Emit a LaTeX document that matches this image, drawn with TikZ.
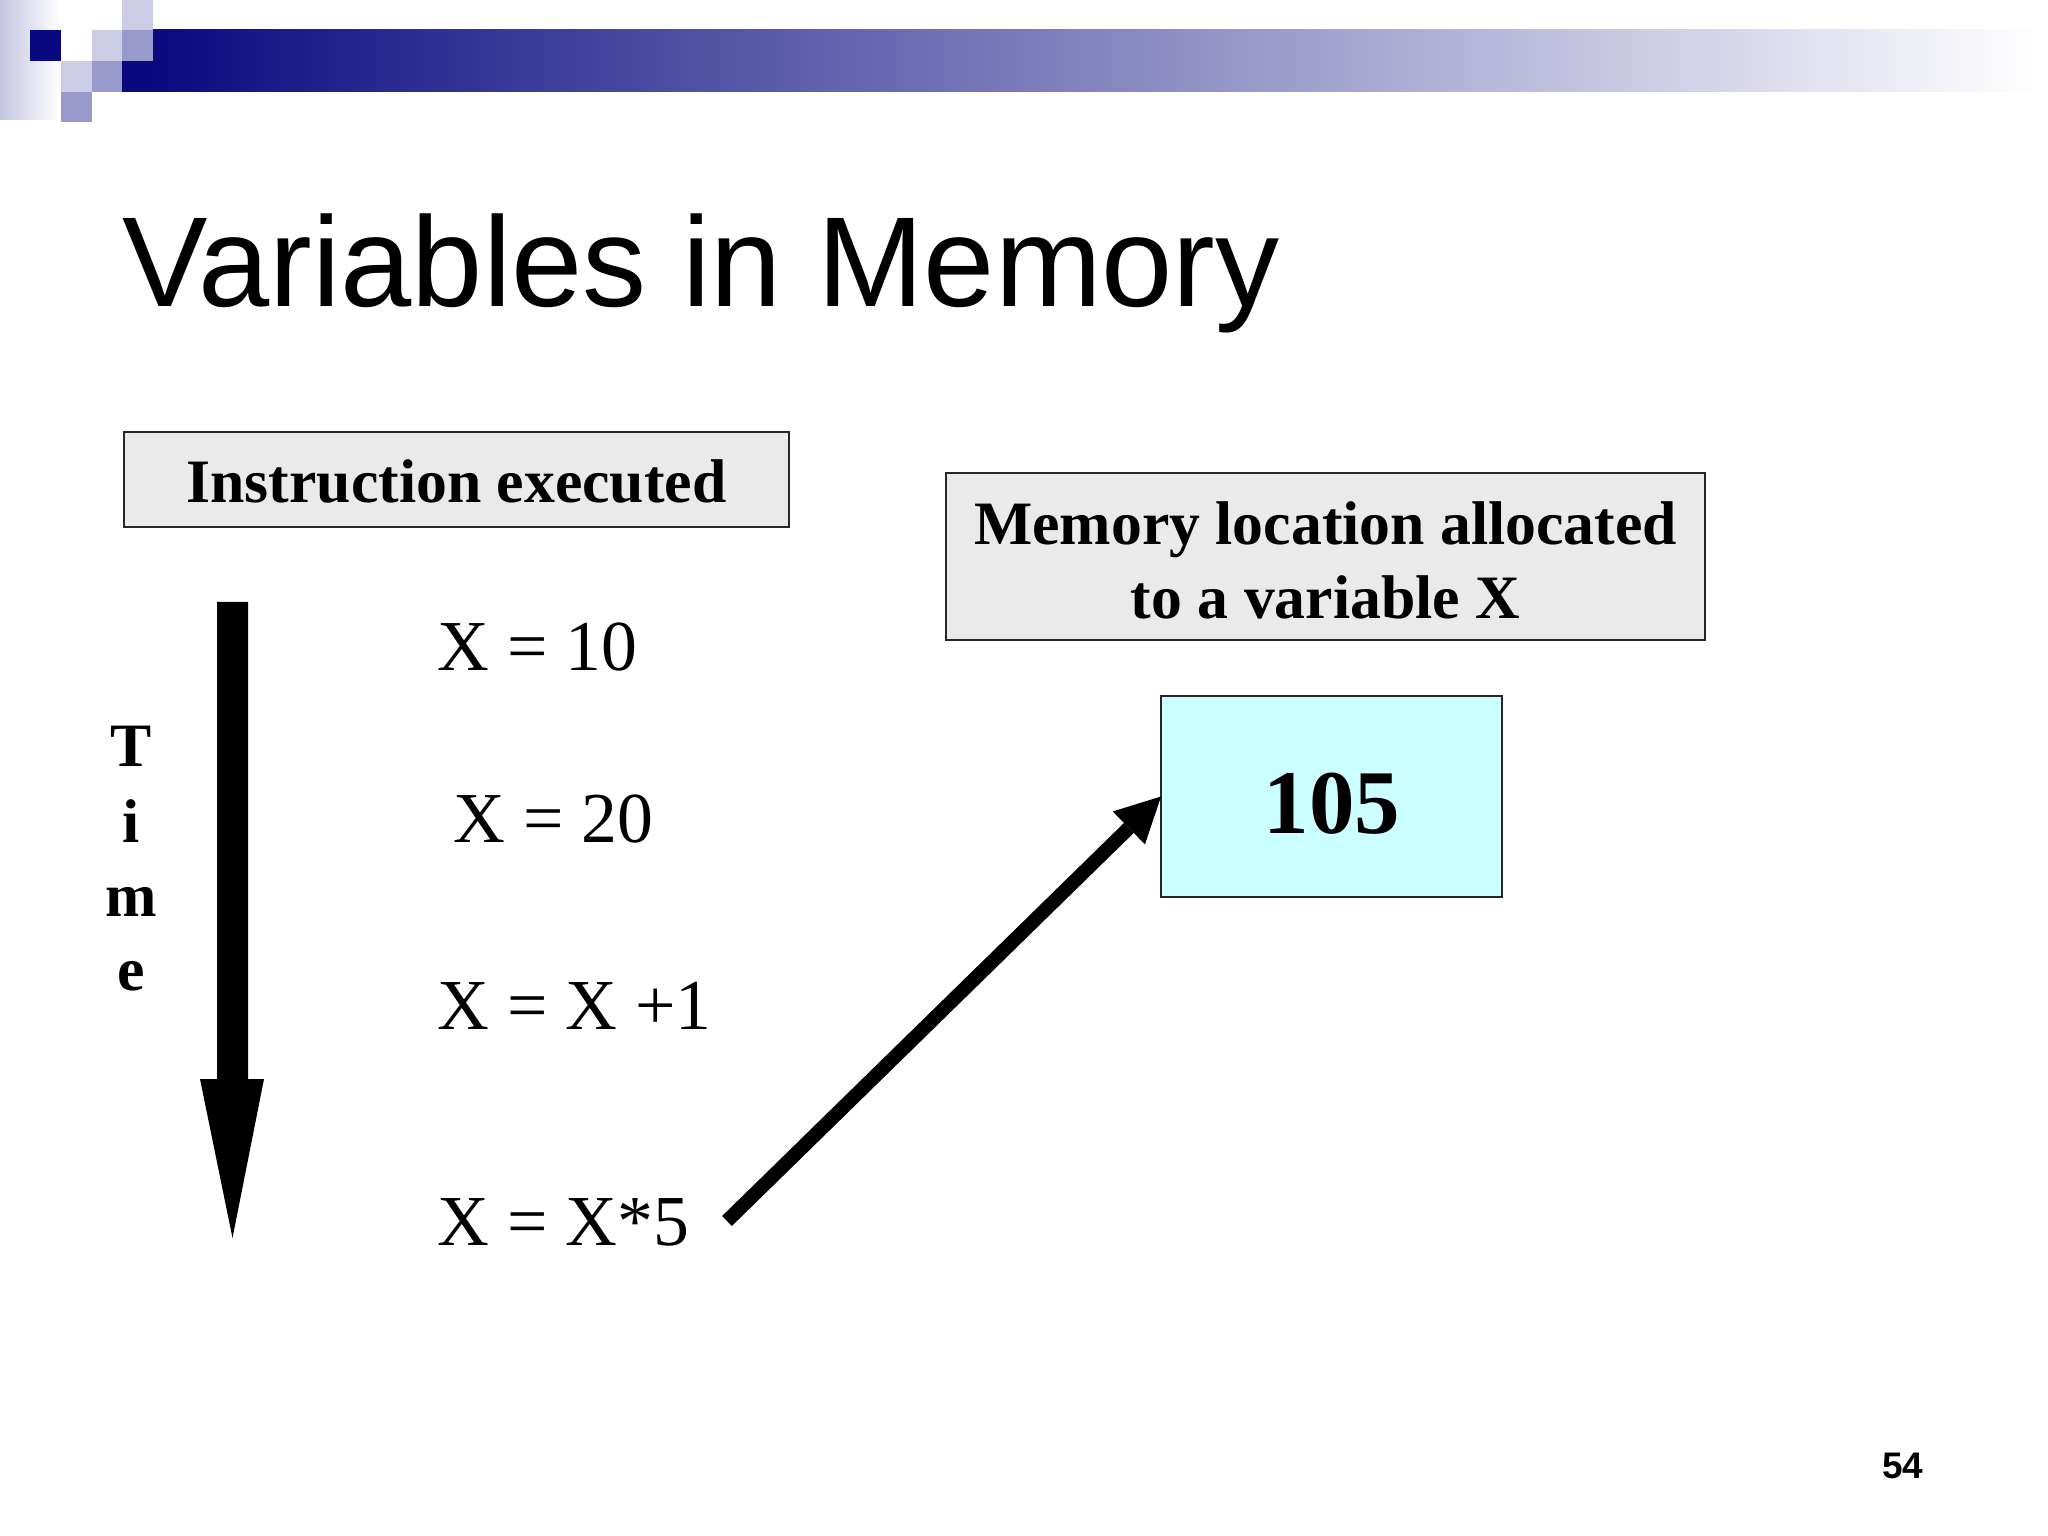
\documentclass[tikz,border=0pt]{standalone}
\usepackage{fontspec}
\setmainfont{Liberation Serif}
\newfontfamily\titlefont{Liberation Sans}
\usetikzlibrary{arrows.meta}
\definecolor{navy}{RGB}{10,10,128}
\definecolor{lightsq}{RGB}{204,204,230}
\definecolor{midsq}{RGB}{153,153,204}
\definecolor{boxgray}{RGB}{234,234,234}
\definecolor{cyanfill}{RGB}{204,255,255}
\definecolor{stripl}{RGB}{196,196,226}
\begin{document}
\begin{tikzpicture}[x=0.35156pt,y=-0.35156pt,
  graybox/.style={rectangle,draw=black!85,line width=0.7pt,fill=boxgray,inner sep=0pt,outer sep=0pt},
  valbox/.style={rectangle,draw=black!85,line width=0.7pt,fill=cyanfill,inner sep=0pt,outer sep=0pt},
  boxtxt/.style={font=\fontsize{21.7}{26}\selectfont\bfseries,inner sep=0pt,anchor=base},
  stmt/.style={font=\fontsize{25.2}{30}\selectfont,inner sep=0pt,anchor=base west},
  conn/.style={line width=4.9pt,-{Triangle[length=15.8pt,width=16.2pt,line width=0pt]}},
]
\useasboundingbox (0,0) rectangle (2048,1536);
\fill[white] (0,0) rectangle (2048,1536);
% header decoration
\shade[left color=stripl,right color=white] (0,0) rectangle (60,120);
\shade[left color=navy,right color=white] (153,30) rectangle (2040,92);
\fill[navy] (122,61) rectangle (153.5,92);
\fill[navy] (30,30) rectangle (61,61);
\fill[lightsq] (61,61) rectangle (92,92);
\fill[midsq] (61,92) rectangle (92,122);
\fill[lightsq] (92,30) rectangle (122,61);
\fill[midsq] (92,61) rectangle (122,92);
\fill[lightsq] (122,0) rectangle (153,30);
\fill[midsq] (122,30) rectangle (153,61);
% title
\node[font=\titlefont\fontsize{45}{50}\selectfont,anchor=base west,inner sep=0pt] (title) at (122,307) {Variables in Memory};
% boxes
\node[graybox,minimum width=233.79pt,minimum height=33.40pt] (instbox) at (456.5,479.5) {};
\node[boxtxt] (insttxt) at (456.5,503) {Instruction executed};
\node[graybox,minimum width=266.83pt,minimum height=58.71pt] (membox) at (1325.5,556.5) {};
\node[boxtxt] (memtxt1) at (1325.5,545) {Memory location allocated};
\node[boxtxt] (memtxt2) at (1325.5,618) {to a variable X};
\node[valbox,minimum width=119.88pt,minimum height=70.66pt] (mem) at (1331.5,796.5) {};
\node[font=\fontsize{32}{36}\selectfont\bfseries,anchor=base,inner sep=0pt] (val) at (1332,833) {105};
% time axis
\node[boxtxt] (tT) at (131,767) {T};
\node[boxtxt] (ti) at (131,842) {i};
\node[boxtxt] (tm) at (131,916) {m};
\node[boxtxt] (te) at (131,990) {e};
\fill[black] (217,602) -- (248,602) -- (248,1079) -- (264,1079) -- (232.5,1238) -- (200,1079) -- (217,1079) -- cycle;
% statements
\node[stmt] (s1) at (437,670) {X = 10};
\node[stmt] (s2) at (453,842) {X = 20};
\node[stmt] (s3) at (437,1029) {X = X +1};
\node[stmt] (s4) at (437,1245) {X = X*5};
% connector
\coordinate (src) at (727,1221);
\draw[conn] (src) -- (mem.west);
% page number
\node[font=\titlefont\fontsize{13}{15}\selectfont\bfseries,anchor=base east,inner sep=0pt] (pg) at (1924,1478) {54};
\end{tikzpicture}
\end{document}
